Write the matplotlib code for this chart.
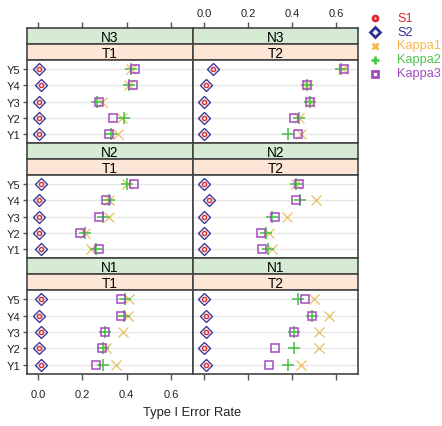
import matplotlib
matplotlib.use("Agg")
from matplotlib import pyplot as plt

plt.rcParams['font.family'] = ['Liberation Sans', 'DejaVu Sans']

W, H = 442, 427

items = ['Y1', 'Y2', 'Y3', 'Y4', 'Y5']
n_levels = ['N3', 'N2', 'N1']
t_levels = ['T1', 'T2']
methods = ['S1', 'S2', 'Kappa1', 'Kappa2', 'Kappa3']

# values per panel, order: N3T1, N3T2, N2T1, N2T2, N1T1, N1T2 ; each Y1..Y5
s1 = [[0.005, 0.005, 0.005, 0.015, 0.005],
      [0.002, 0.002, 0.002, 0.011, 0.040],
      [0.012, 0.005, 0.005, 0.005, 0.012],
      [0.000, 0.000, 0.000, 0.022, 0.000],
      [0.012, 0.005, 0.012, 0.005, 0.012],
      [0.011, 0.002, 0.011, 0.011, 0.002]]
s2 = [[0.005, 0.005, 0.005, 0.015, 0.005],
      [0.002, 0.002, 0.002, 0.011, 0.040],
      [0.012, 0.005, 0.005, 0.005, 0.012],
      [0.000, 0.000, 0.000, 0.022, 0.000],
      [0.012, 0.005, 0.012, 0.005, 0.012],
      [0.011, 0.002, 0.011, 0.011, 0.002]]
kappa1 = [[0.360, 0.380, 0.290, 0.410, 0.420],
          [0.443, 0.430, 0.480, 0.470, 0.630],
          [0.238, 0.210, 0.322, 0.320, 0.400],
          [0.307, 0.294, 0.378, 0.507, 0.420],
          [0.352, 0.307, 0.385, 0.408, 0.410],
          [0.443, 0.521, 0.521, 0.570, 0.498]]
kappa2 = [[0.330, 0.390, 0.265, 0.410, 0.420],
          [0.380, 0.432, 0.480, 0.468, 0.623],
          [0.262, 0.212, 0.295, 0.322, 0.400],
          [0.292, 0.282, 0.307, 0.435, 0.420],
          [0.295, 0.295, 0.302, 0.388, 0.393],
          [0.380, 0.410, 0.410, 0.493, 0.425]]
kappa3 = [[0.320, 0.340, 0.275, 0.430, 0.440],
          [0.428, 0.410, 0.480, 0.470, 0.638],
          [0.274, 0.190, 0.277, 0.307, 0.433],
          [0.262, 0.260, 0.322, 0.420, 0.430],
          [0.262, 0.290, 0.302, 0.373, 0.373],
          [0.297, 0.322, 0.410, 0.493, 0.461]]
series = [s1, s2, kappa1, kappa2, kappa3]

xticks = [0.0, 0.2, 0.4, 0.6]
xtick_labels = ['0.0', '0.2', '0.4', '0.6']

colors = ['#e0282e', '#3a3a9a', '#e9c36e', '#4cc44c', '#a24bbf']
legend_colors = ['#e0282e', '#2e3192', '#f9b848', '#4cc44c', '#a24bbf']
markers = ['o', 'D', 'x', '+', 's']
msizes = [3.0, 5.8, 6.5, 8.5, 5.6]
medges = [1.0, 1.0, 1.0, 1.2, 1.1]

GREEN = '#d5ebd3'
PEACH = '#fde6d6'
BORDER = '#444444'
TICK_FS = 8
STRIP_FS = 9.8
LAB_FS = 9.3
LEG_FS = 9.2
XLIM = (-0.05, 0.70)

fig = plt.figure(figsize=(W / 100, H / 100), dpi=100)


def px_axes(x0, y0, x1, y1):
    return fig.add_axes([x0 / W, 1 - y1 / H, (x1 - x0) / W, (y1 - y0) / H])


def strip(x0, y0, x1, y1, text, color):
    ax = px_axes(x0, y0, x1, y1)
    ax.set_facecolor(color)
    ax.set_xlim(*XLIM)
    ax.set_xticks([])
    ax.set_yticks([])
    for sp in ax.spines.values():
        sp.set_color(BORDER)
        sp.set_linewidth(1.2)
    ax.text(0.5, 0.45, text, ha='center', va='center', fontsize=STRIP_FS,
            transform=ax.transAxes, color='black')
    return ax


col_x = [(27, 193), (193, 358)]
top = 29
block = 115.2
strip_h = 16

for r, nlev in enumerate(n_levels):
    y0 = top + r * block
    for c, tlev in enumerate(t_levels):
        x0, x1 = col_x[c]
        sax = strip(x0, y0, x1, y0 + strip_h, nlev, GREEN)
        strip(x0, y0 + strip_h, x1, y0 + 2 * strip_h, tlev, PEACH)
        if r == 0:
            # top axis sits above the outer strip
            sax.set_xticks(xticks)
            sax.set_xticklabels(xtick_labels)
            sax.tick_params(axis='x', top=True, bottom=False, labelbottom=False,
                            labeltop=(c == 1), colors='#555555', length=4,
                            width=1, labelsize=TICK_FS, labelcolor='#222222',
                            pad=3)
        ax = px_axes(x0, y0 + 2 * strip_h, x1, y0 + block)
        p = r * 2 + c
        ypos = list(range(1, len(items) + 1))
        for yy in ypos:
            ax.axhline(yy, color='#e6e6e6', lw=1, zorder=1)
        for k, m in enumerate(methods):
            ax.plot(series[k][p], ypos, linestyle='none', marker=markers[k],
                    markersize=msizes[k], markerfacecolor='none',
                    markeredgecolor=colors[k], markeredgewidth=medges[k],
                    zorder=3 + k)
        ax.set_xlim(*XLIM)
        ax.set_ylim(0.45, 5.55)
        for sp in ax.spines.values():
            sp.set_color(BORDER)
            sp.set_linewidth(1.2)
        ax.tick_params(axis='both', colors='#555555', length=4, width=1,
                       labelsize=TICK_FS, labelcolor='#222222')
        if c == 0:
            ax.set_yticks(ypos)
            ax.set_yticklabels(items)
            ax.tick_params(axis='y', length=3, pad=2)
        else:
            ax.set_yticks([])
        if r == len(n_levels) - 1:
            ax.set_xticks(xticks)
            ax.set_xticklabels(xtick_labels)
            ax.tick_params(axis='x', top=False, bottom=True,
                           labelbottom=(c == 0), pad=7)
        else:
            ax.set_xticks([])

fig.text(192.5 / W, 1 - 413 / H, 'Type I Error Rate', ha='center', va='center',
         fontsize=LAB_FS, color='#222222')

# legend
for k, m in enumerate(methods):
    yy = 1 - (18.5 + 14 * k) / H
    fig.lines.append(plt.Line2D([375 / W], [yy], transform=fig.transFigure,
                                linestyle='none', marker=markers[k],
                                markersize=[3.5, 5, 5, 6, 5][k],
                                markerfacecolor='none',
                                markeredgecolor=legend_colors[k],
                                markeredgewidth=2))
    fig.text(397 / W, yy, m, ha='left', va='center', fontsize=LEG_FS,
             color=legend_colors[k])

fig.savefig('out.png', dpi=100)
